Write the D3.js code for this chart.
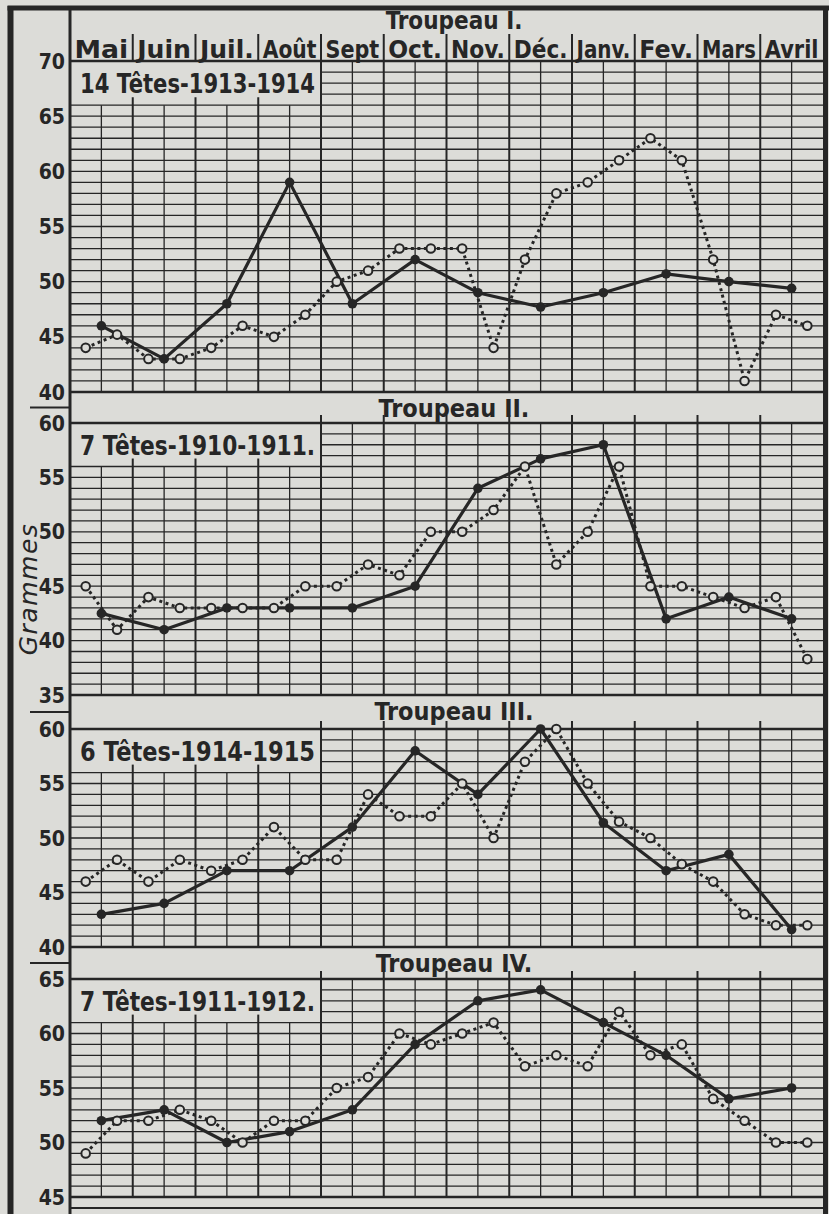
<!DOCTYPE html>
<html>
<head>
<meta charset="utf-8">
<title>Troupeaux - Grammes</title>
<script src="https://d3js.org/d3.v7.min.js"></script>
<style>
  body { margin: 0; background: #dcdcd8; }
  text { font-family: "DejaVu Sans Condensed", "DejaVu Sans", sans-serif; font-weight: bold; fill: #262626; }
</style>
</head>
<body>
<div id="my_dataviz"></div>
<script>

// months of the year (May -> April)
var months = ["Mai", "Juin", "Juil.", "Août", "Sept", "Oct.", "Nov.", "Déc.", "Janv.", "Fev.", "Mars", "Avril"];

var titles = ["Troupeau I.", "Troupeau II.", "Troupeau III.", "Troupeau IV."];
var heads = ["14 Têtes-1913-1914", "7 Têtes-1910-1911.", "6 Têtes-1914-1915", "7 Têtes-1911-1912."];

// y ranges (grammes) and tick labels of each panel
var domainI = [40, 70], ticksI = [40, 45, 50, 55, 60, 65, 70];
var domainII = [35, 60], ticksII = [35, 40, 45, 50, 55, 60];
var domainIII = [40, 60], ticksIII = [40, 45, 50, 55, 60];
var domainIV = [45, 65], ticksIV = [45, 50, 55, 60, 65];

// monthly values (solid line, middle of month)
var solidI = [46, 43, 48, 59, 48, 52, 49, 47.7, 49, 50.7, 50, 49.4];
var solidII = [42.5, 41, 43, 43, 43, 45, 54, 56.7, 58, 42, 44, 42];
var solidIII = [43, 44, 47, 47, 51, 58, 54, 60, 51.4, 47, 48.5, 41.6];
var solidIV = [52, 53, 50, 51, 53, 59, 63, 64, 61, 58, 54, 55];

// fortnightly values (dotted line)
var dotI = [44, 45.2, 43, 43, 44, 46, 45, 47, 50, 51, 53, 53, 53, 44, 52, 58, 59, 61, 63, 61, 52, 41, 47, 46];
var dotII = [45, 41, 44, 43, 43, 43, 43, 45, 45, 47, 46, 50, 50, 52, 56, 47, 50, 56, 45, 45, 44, 43, 44, 38.3];
var dotIII = [46, 48, 46, 48, 47, 48, 51, 48, 48, 54, 52, 52, 55, 50, 57, 60, 55, 51.5, 50, 47.6, 46, 43, 42, 42];
var dotIV = [49, 52, 52, 53, 52, 50, 52, 52, 55, 56, 60, 59, 60, 61, 57, 58, 57, 62, 58, 59, 54, 52, 50, 50];

var W = 829, H = 1214;
var ink = "#262626", paper = "#dcdcd8";

// pixel layout of the four panels
var layout = [
  {top: 61, bottom: 392},
  {top: 423, bottom: 695},
  {top: 729, bottom: 947},
  {top: 979, bottom: 1197}
];

var panels = [
  {domain: domainI, ticks: ticksI, solid: solidI, dots: dotI},
  {domain: domainII, ticks: ticksII, solid: solidII, dots: dotII},
  {domain: domainIII, ticks: ticksIII, solid: solidIII, dots: dotIII},
  {domain: domainIV, ticks: ticksIV, solid: solidIV, dots: dotIV}
];

var svg = d3.select("#my_dataviz")
  .append("svg")
    .attr("width", W)
    .attr("height", H);

svg.append("rect").attr("width", W).attr("height", H).attr("fill", paper);

// X scale: 0..12 months
var x = d3.scaleLinear().domain([0, 12]).range([70, 823]);

function hline(g, y0, x1, x2, w) {
  g.append("line").attr("x1", x1).attr("x2", x2).attr("y1", y0).attr("y2", y0)
    .attr("stroke", ink).attr("stroke-width", w);
}
function vline(g, x0, y1, y2, w) {
  g.append("line").attr("x1", x0).attr("x2", x0).attr("y1", y1).attr("y2", y2)
    .attr("stroke", ink).attr("stroke-width", w);
}

panels.forEach(function(p, i) {
  var lay = layout[i];
  var lo = p.domain[0], hi = p.domain[1];
  var y = d3.scaleLinear().domain(p.domain).range([lay.bottom, lay.top]);
  var g = svg.append("g");
  var boxBottom = y(hi - 4);

  // horizontal grid, one line per gramme
  d3.range(lo, hi + 1).forEach(function(v) {
    var edge = (v == lo || v == hi);
    var start = (v > hi - 4 && v < hi) ? x(4) : x(0);
    hline(g, y(v), start, x(12), edge ? 2.6 : 1.3);
  });

  // vertical grid, month and half month
  d3.range(1, 24).forEach(function(k) {
    var mx = x(k / 2);
    var month = (k % 2 == 0);
    var top = (k < 8) ? boxBottom - (month ? 8 : 0) : lay.top - (month && i > 0 ? 8 : 0);
    vline(g, mx, top, lay.bottom, month ? 2 : 1.3);
  });

  // head count label
  g.append("text")
    .attr("x", x(0) + 10)
    .attr("y", y(hi - 2) + 10)
    .attr("textLength", x(4) - x(0) - 16)
    .attr("lengthAdjust", "spacingAndGlyphs")
    .style("font-size", "27px")
    .text(heads[i]);

  // y labels
  p.ticks.forEach(function(t) {
    svg.append("text")
      .attr("x", 65)
      .attr("y", y(t))
      .attr("dy", "0.36em")
      .attr("text-anchor", "end")
      .style("font-size", "21px")
      .text(t);
  });

  // title band
  var bandTop = i == 0 ? 8 : layout[i - 1].bottom;
  svg.append("text")
    .attr("x", 454)
    .attr("y", i == 0 ? 29 : bandTop + 25)
    .attr("text-anchor", "middle")
    .style("font-size", i == 0 ? "24px" : "25px")
    .text(titles[i]);

  // dotted fortnight line
  var dline = d3.line()
    .x(function(d, j) { return x(j / 2 + 0.25); })
    .y(function(d) { return y(d); });
  g.append("path")
    .attr("d", dline(p.dots))
    .attr("fill", "none")
    .attr("stroke", ink)
    .attr("stroke-width", 3)
    .attr("stroke-dasharray", "3,3.5");

  // solid monthly line
  var sline = d3.line()
    .x(function(d, j) { return x(j + 0.5); })
    .y(function(d) { return y(d); });
  g.append("path")
    .attr("d", sline(p.solid))
    .attr("fill", "none")
    .attr("stroke", ink)
    .attr("stroke-width", 3.2)
    .attr("stroke-linejoin", "round");

  g.selectAll(".sdot")
    .data(p.solid)
    .enter()
    .append("circle")
      .attr("cx", function(d, j) { return x(j + 0.5); })
      .attr("cy", function(d) { return y(d); })
      .attr("r", 4.8)
      .attr("fill", ink);

  g.selectAll(".odot")
    .data(p.dots)
    .enter()
    .append("circle")
      .attr("cx", function(d, j) { return x(j / 2 + 0.25); })
      .attr("cy", function(d) { return y(d); })
      .attr("r", 4.3)
      .attr("fill", paper)
      .attr("stroke", ink)
      .attr("stroke-width", 2);

  // short separator under the bottom label
  if (i < 3) {
    hline(svg, (lay.bottom + layout[i + 1].top) / 2, 30, 70, 2.2);
  }
});

// header: month names
months.forEach(function(m, i) {
  svg.append("text")
    .attr("x", x(i + 0.5))
    .attr("y", 58)
    .attr("text-anchor", "middle")
    .attr("textLength", x(1) - x(0) - 9)
    .attr("lengthAdjust", "spacingAndGlyphs")
    .style("font-size", "24px")
    .text(m);
  if (i > 0) vline(svg, x(i), 34, 61, 2);
});

// bottom band line
hline(svg, 1208, x(0), x(12), 2);

// frame
vline(svg, x(0), 8, H, 3);
vline(svg, 10.5, 6, H, 6);
vline(svg, 825.5, 6, H, 5);
hline(svg, 8, 7.5, W, 5);

// y axis title
svg.append("text")
  .attr("transform", "translate(37,589) rotate(-90)")
  .attr("text-anchor", "middle")
  .style("font-family", "'DejaVu Sans', sans-serif")
  .style("font-style", "italic")
  .style("font-weight", "normal")
  .style("font-size", "25px")
  .style("letter-spacing", "1.5px")
  .text("Grammes");

</script>
</body>
</html>
